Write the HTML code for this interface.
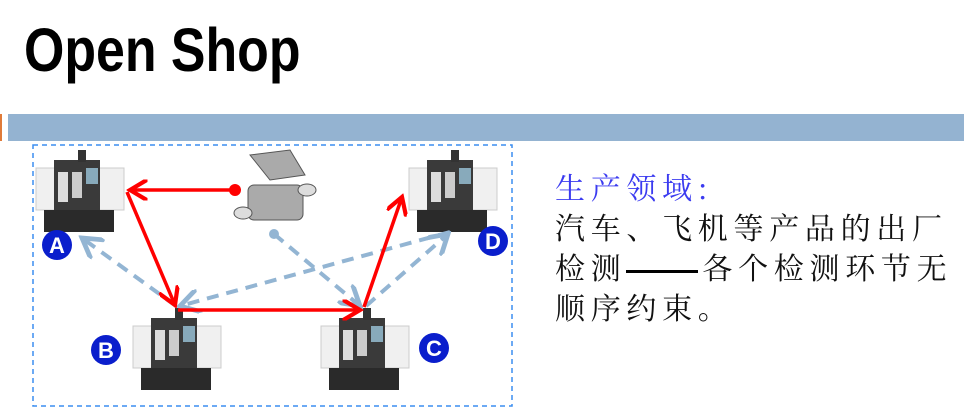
<!DOCTYPE html>
<html><head><meta charset="utf-8"><style>
body{margin:0;width:964px;height:412px;background:#fff;position:relative;overflow:hidden;font-family:"Liberation Sans",sans-serif}
.t{position:absolute;left:24px;top:20px;font-size:61px;line-height:61px;font-weight:bold;color:#000;transform:scaleX(0.85);transform-origin:left;white-space:nowrap}
.bar{position:absolute;left:8px;top:114px;width:956px;height:27px;background:#94b3d1}
.om{position:absolute;left:0;top:114px;width:2px;height:27px;background:#e07b39}
.cn{position:absolute;left:555px;top:166px;font-family:"Noto Serif CJK SC","Noto Sans CJK SC",serif;font-size:30px;line-height:40px;letter-spacing:5.7px;color:#111;white-space:nowrap}
.cn .h{color:#3b3bf0}
.d{display:inline-block;width:72px;height:3px;background:#000;vertical-align:middle;margin-right:4px}
</style></head><body>
<div class="t">Open Shop</div>
<div class="om"></div><div class="bar"></div>
<svg width="964" height="412" style="position:absolute;left:0;top:0">
<defs>
<g id="m">
<rect x="0" y="18" width="88" height="42" fill="#f0f0f0" stroke="#ccc"/>
<rect x="18" y="10" width="46" height="50" fill="#3a3a3a"/>
<rect x="42" y="0" width="8" height="12" fill="#333"/>
<rect x="22" y="22" width="10" height="30" fill="#ddd"/>
<rect x="36" y="22" width="10" height="26" fill="#ccc"/>
<rect x="50" y="18" width="12" height="16" fill="#8ab"/>
<rect x="8" y="60" width="70" height="22" fill="#2a2a2a"/>
</g>
<marker id="ra" markerWidth="6" markerHeight="6" refX="5" refY="3" orient="auto"><path d="M0,0 L5,3 L0,6" fill="none" stroke="#f00" stroke-width="1.2"/></marker>
<marker id="ba" markerWidth="6" markerHeight="6" refX="5" refY="3" orient="auto"><path d="M0,0 L5,3 L0,6" fill="none" stroke="#93b5d3" stroke-width="1.2"/></marker>
</defs>
<rect x="33" y="145" width="479" height="261" fill="none" stroke="#3b8ef0" stroke-width="1.5" stroke-dasharray="5,4"/>
<use href="#m" x="36" y="150"/>
<use href="#m" x="409" y="150"/>
<use href="#m" x="133" y="308"/>
<use href="#m" x="321" y="308"/>
<g fill="#aaa" stroke="#555"><path d="M250,155 L290,150 L305,175 L270,180 Z"/><rect x="248" y="185" width="55" height="35" rx="6"/><ellipse cx="243" cy="213" rx="9" ry="6" fill="#ddd"/><ellipse cx="307" cy="190" rx="9" ry="6" fill="#ddd"/></g>
<g stroke="#93b5d3" stroke-width="4" stroke-dasharray="12,8" fill="none">
<line x1="274" y1="234" x2="360" y2="306" marker-end="url(#ba)"/>
<line x1="450" y1="232" x2="180" y2="306" marker-end="url(#ba)"/>
<line x1="176" y1="306" x2="82" y2="238" marker-end="url(#ba)"/>
<line x1="366" y1="306" x2="448" y2="234" marker-end="url(#ba)"/>
</g>
<circle cx="274" cy="234" r="5" fill="#93b5d3"/>
<g stroke="#f00" stroke-width="3.5" fill="none">
<line x1="235" y1="190" x2="130" y2="190" marker-end="url(#ra)"/>
<line x1="127" y1="192" x2="175" y2="305" marker-end="url(#ra)"/>
<line x1="178" y1="310" x2="360" y2="310" marker-end="url(#ra)"/>
<line x1="364" y1="307" x2="402" y2="197" marker-end="url(#ra)"/>
</g>
<circle cx="235" cy="190" r="6" fill="#f00"/>
<g font-family="Liberation Sans" font-weight="bold" font-size="22" fill="#fff" text-anchor="middle">
<circle cx="57" cy="245" r="15" fill="#0a1ecc"/><text x="57" y="253">A</text>
<circle cx="106" cy="350" r="15" fill="#0a1ecc"/><text x="106" y="358">B</text>
<circle cx="434" cy="348" r="15" fill="#0a1ecc"/><text x="434" y="356">C</text>
<circle cx="493" cy="241" r="15" fill="#0a1ecc"/><text x="493" y="249">D</text>
</g>
</svg>
<div class="cn"><span class="h">生产领域:</span><br>汽车、飞机等产品的出厂<br>检测<span class="d"></span>各个检测环节无<br>顺序约束。</div>
</body></html>
